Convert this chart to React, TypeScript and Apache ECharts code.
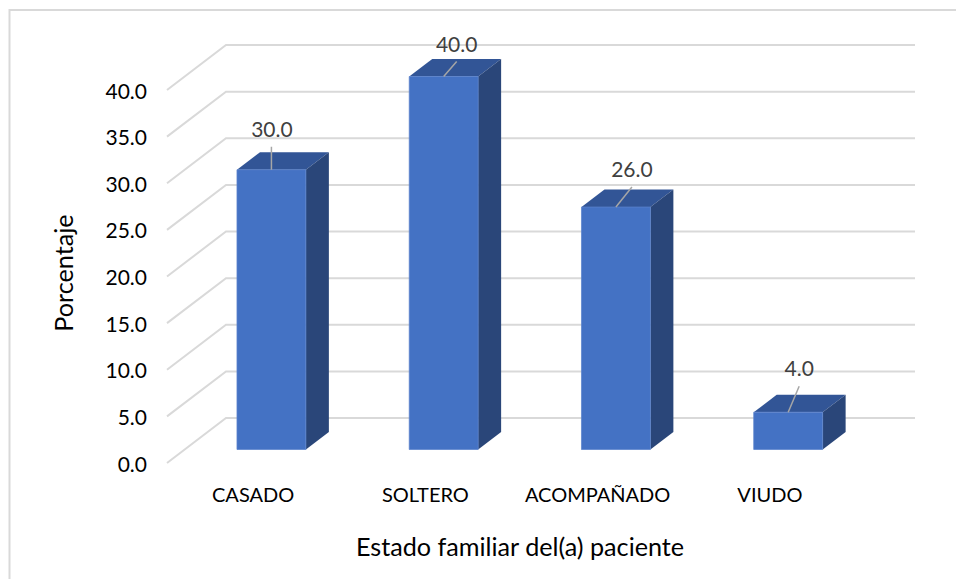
import React, { useEffect, useRef } from "react";
import * as echarts from "echarts";

const categories = ["CASADO", "SOLTERO", "ACOMPAÑADO", "VIUDO"];
const percentages = [30.0, 40.0, 26.0, 4.0];
const gridTicks = [0, 5, 10, 15, 20, 25, 30, 35, 40];
const xAxisTitle = "Estado familiar del(a) paciente";
const yAxisTitle = "Porcentaje";

// Pseudo-3D layout, in pixels: back wall and bar faces relative to the front plane.
const WALL_DX = 59;
const WALL_DY = -45;
const FRONT_DX = 18.3;
const FRONT_DY = -13.5;
const DEPTH_DX = 23;
const DEPTH_DY = -17.5;
const FONT = "Lato, 'Open Sans', sans-serif";

// Hand-placed label and leader offsets, from each bar's top-front centre.
const labelOffsets = [
  [0.5, -41],
  [13, -33],
  [16, -39],
  [11, -45],
];
const leaderOffsets = [
  [0, -23],
  [13, -15],
  [16, -20],
  [11, -26],
];

export default function App() {
  const ref = useRef<HTMLDivElement>(null);

  useEffect(() => {
    const chart = echarts.init(ref.current!, null, { renderer: "svg" });
    chart.setOption({
      animation: false,
      backgroundColor: "#ffffff",
      graphic: [
        {
          type: "polyline",
          shape: { points: [[9.5, 579], [9.5, 10], [956, 10]] },
          style: { fill: "none", stroke: "#d9d9d9", lineWidth: 2 },
          silent: true,
        },
      ],
      grid: { left: 167, width: 689, top: 90, height: 373 },
      xAxis: {
        type: "category",
        data: categories,
        axisLine: { show: false },
        axisTick: { show: false },
        axisLabel: { color: "#000000", fontFamily: FONT, fontSize: 20, margin: 21, interval: 0 },
        name: xAxisTitle,
        nameLocation: "middle",
        nameGap: 70,
        nameTextStyle: { color: "#000000", fontFamily: FONT, fontSize: 25.2, padding: [0, 0, 0, 17] },
      },
      yAxis: {
        type: "value",
        min: 0,
        max: 40,
        interval: 5,
        splitLine: { show: false },
        axisLine: { show: false },
        axisTick: { show: false },
        axisLabel: {
          color: "#000000",
          fontFamily: FONT,
          fontSize: 21,
          margin: 20,
          formatter: (v: number) => v.toFixed(1),
        },
        name: yAxisTitle,
        nameLocation: "middle",
        nameGap: 92,
        nameTextStyle: { color: "#000000", fontFamily: FONT, fontSize: 25.2, padding: [0, 0, 0, 7] },
      },
      series: [
        {
          // Side wall and back wall gridlines, one polyline per tick.
          type: "custom",
          coordinateSystem: "cartesian2d",
          silent: true,
          z: 1,
          data: gridTicks.map((t) => [0, t]),
          encode: { x: 0, y: 1 },
          renderItem: (params: any, api: any) => {
            const y = api.coord([0, api.value(1)])[1];
            const cs = params.coordSys;
            return {
              type: "polyline",
              shape: {
                points: [
                  [cs.x, y],
                  [cs.x + WALL_DX, y + WALL_DY],
                  [cs.x + cs.width + WALL_DX, y + WALL_DY],
                ],
              },
              style: { fill: "none", stroke: "#d9d9d9", lineWidth: 2 },
            };
          },
        },
        {
          // Extruded bars with their value labels and leader lines.
          type: "custom",
          coordinateSystem: "cartesian2d",
          silent: true,
          z: 2,
          data: percentages.map((v, i) => [i, v]),
          encode: { x: 0, y: 1 },
          renderItem: (params: any, api: any) => {
            const i = api.value(0);
            const v = api.value(1);
            const top = api.coord([i, v]);
            const base = api.coord([i, 0]);
            const w = api.size([1, 0])[0] * 0.4;
            const l = top[0] + FRONT_DX - w / 2;
            const r = l + w;
            const t = top[1] + FRONT_DY;
            const b = base[1] + FRONT_DY;
            const cx = l + w / 2;
            const label = labelOffsets[i];
            const leader = leaderOffsets[i];
            return {
              type: "group",
              children: [
                {
                  type: "polygon",
                  shape: {
                    points: [[l, t], [r, t], [r + DEPTH_DX, t + DEPTH_DY], [l + DEPTH_DX, t + DEPTH_DY]],
                  },
                  style: { fill: "#325596" },
                },
                {
                  type: "polygon",
                  shape: {
                    points: [[r, t], [r + DEPTH_DX, t + DEPTH_DY], [r + DEPTH_DX, b + DEPTH_DY], [r, b]],
                  },
                  style: { fill: "#2a4679" },
                },
                {
                  type: "rect",
                  shape: { x: l, y: t, width: w, height: b - t },
                  style: { fill: "#4472c4", stroke: "#5b83cc", lineWidth: 0.75 },
                },
                {
                  type: "line",
                  shape: { x1: cx, y1: t, x2: cx + leader[0], y2: t + leader[1] },
                  style: { stroke: "#a6a6a6", lineWidth: 1.5 },
                },
                {
                  type: "text",
                  x: cx + label[0],
                  y: t + label[1],
                  style: {
                    text: v.toFixed(1),
                    fill: "#404040",
                    font: `21px ${FONT}`,
                    align: "center",
                    verticalAlign: "middle",
                  },
                },
              ],
            };
          },
        },
      ],
    });
    return () => chart.dispose();
  }, []);

  return (
    <div
      ref={ref}
      style={{ position: "fixed", left: 0, top: 0, width: 956, height: 579 }}
    />
  );
}
